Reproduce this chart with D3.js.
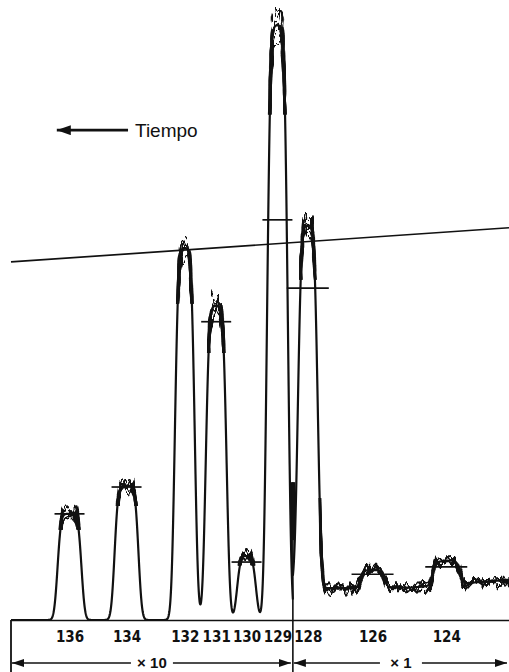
<!DOCTYPE html>
<html>
<head>
<meta charset="utf-8">
<script src="https://cdn.jsdelivr.net/npm/d3@7"></script>
<style>
  html, body { margin: 0; padding: 0; background: #fff; }
  svg { display: block; }
  .tick text { font-family: "Liberation Sans Narrow", "DejaVu Sans Condensed", sans-serif; font-weight: bold; font-size: 15px; fill: #111; }
</style>
</head>
<body>
<div id="chart"></div>
<script>
const masses        = [136, 134, 132, 131, 130, 129, 128, 126, 124];
const peakTime      = [11.75, 23.2, 34.9, 41.2, 47.3, 53.5, 59.6, 72.6, 87.4];
const peakHeight    = [17.4, 22.0, 61.0, 51.5, 10.5, 97.5, 59.5, 2.9, 3.9];   // sobre la linea base
const peakHalfWidth = [2.4, 2.4, 2.0, 2.1, 1.9, 2.1, 2.0, 2.4, 2.7];
const markLevel     = [17.4, 21.8, null, 48.9, 9.5, 65.6, 54.4, 7.5, 8.7];   // rayas horizontales

const gainSwitch = 56.6;                 // cambio de escala
const gainLabels = ['× 10', '× 1'];
const baseTimeX1  = [56.6, 80, 100];     // deriva de la linea base en la zona × 1
const baseLevelX1 = [5.2, 5.3, 6.6];
const spikeLevel  = [13.1, 22.6];        // transitorio al cambiar la escala
const refLine     = [58.7, 64.3];        // recta inclinada en t = 0 y t = 100

const W = 509, H = 672;
const EDGE = 0.55;   // suavizado de los flancos

const x = d3.scaleLinear().domain([0, 100]).range([11, 509]);
const y = d3.scaleLinear().domain([0, 100]).range([620, 10]);

function erf(v) {
    const s = Math.sign(v);
    v = Math.abs(v);
    const t = 1 / (1 + 0.3275911 * v);
    const r = 1 - (((((1.061405429 * t - 1.453152027) * t) + 1.421413741) * t - 0.284496736) * t + 0.254829592) * t * Math.exp(-v * v);
    return s * r;
}

function profile(t, i) {
    const s = EDGE * Math.SQRT2;
    return peakHeight[i] * 0.5 * (erf((t - peakTime[i] + peakHalfWidth[i]) / s) - erf((t - peakTime[i] - peakHalfWidth[i]) / s));
}

const idx = masses.map((m, i) => i);
const hiIdx = idx.filter(i => peakTime[i] < gainSwitch);
const loIdx = idx.filter(i => peakTime[i] > gainSwitch);
const baseline = d3.scaleLinear().domain(baseTimeX1).range(baseLevelX1);

const tHi = d3.range(0, gainSwitch, 0.05).concat([gainSwitch]);
const tLo = d3.range(gainSwitch, 100, 0.05).concat([100]);
const hiTrace = tHi.map(t => [t, d3.sum(hiIdx, i => profile(t, i))]);
const loTrace = tLo.map(t => [t, baseline(t) + d3.sum(loIdx, i => profile(t, i))]);

const line = d3.line().x(d => x(d[0])).y(d => y(d[1]));

const svg = d3.select('#chart').append('svg')
    .attr('width', W)
    .attr('height', H);

svg.append('rect').attr('width', W).attr('height', H).attr('fill', '#fff');

const defs = svg.append('defs');

// ruido vertical (solo desplaza en y)
function noiseFilter(id, amp, seed) {
    const f = defs.append('filter')
        .attr('id', id)
        .attr('filterUnits', 'userSpaceOnUse')
        .attr('x', 0).attr('y', -100).attr('width', W).attr('height', H + 100)
        .attr('color-interpolation-filters', 'sRGB');
    f.append('feTurbulence')
        .attr('type', 'fractalNoise')
        .attr('baseFrequency', '0.18 0.04')
        .attr('numOctaves', 2)
        .attr('seed', seed)
        .attr('result', 'n');
    f.append('feColorMatrix')
        .attr('in', 'n')
        .attr('type', 'matrix')
        .attr('values', '0 0 0 0 0.5  0 1 0 0 0  0 0 0 0 0  0 0 0 0 1')
        .attr('result', 'm');
    f.append('feDisplacementMap')
        .attr('in', 'SourceGraphic')
        .attr('in2', 'm')
        .attr('scale', amp)
        .attr('xChannelSelector', 'R')
        .attr('yChannelSelector', 'G');
}

function clipRect(id, t0, t1, v0, v1) {
    defs.append('clipPath').attr('id', id)
        .append('rect')
        .attr('x', x(t0)).attr('width', x(t1) - x(t0))
        .attr('y', y(v1)).attr('height', y(v0) - y(v1));
}

function noisyCopy(trace, filterId, clipId, width) {
    svg.append('path')
        .attr('d', line(trace))
        .attr('fill', 'none')
        .attr('stroke', '#111')
        .attr('stroke-width', width)
        .attr('filter', `url(#${filterId})`)
        .attr('clip-path', `url(#${clipId})`);
}

// linea de referencia inclinada
svg.append('line')
    .attr('x1', x(0)).attr('y1', y(refLine[0]))
    .attr('x2', x(100)).attr('y2', y(refLine[1]))
    .attr('stroke', '#111')
    .attr('stroke-width', 1.7);

// eje inferior con las masas
const axis = svg.append('g')
    .attr('transform', `translate(0,${y(0)})`)
    .call(d3.axisBottom(x)
        .tickValues(peakTime)
        .tickFormat((d, i) => masses[i])
        .tickSize(0)
        .tickSizeOuter(0)
        .tickPadding(11));
axis.select('.domain').attr('stroke', '#111').attr('stroke-width', 1.6);

// verticales del recuadro inferior
svg.append('line')
    .attr('x1', x(0)).attr('x2', x(0))
    .attr('y1', y(0)).attr('y2', H)
    .attr('stroke', '#111').attr('stroke-width', 1.8);

svg.append('line')
    .attr('x1', x(gainSwitch)).attr('x2', x(gainSwitch))
    .attr('y1', y(spikeLevel[1])).attr('y2', H)
    .attr('stroke', '#111').attr('stroke-width', 1.6);

svg.append('line')
    .attr('x1', x(gainSwitch)).attr('x2', x(gainSwitch))
    .attr('y1', y(spikeLevel[1])).attr('y2', y(spikeLevel[0]))
    .attr('stroke', '#111').attr('stroke-width', 5);

// traza limpia
[hiTrace, loTrace].forEach(tr => {
    svg.append('path')
        .attr('d', line(tr))
        .attr('fill', 'none')
        .attr('stroke', '#111')
        .attr('stroke-width', 2.2)
        .attr('stroke-linejoin', 'round');
});

// ruido en las cimas de los picos
idx.forEach(i => {
    const inHi = peakTime[i] < gainSwitch;
    const top = inHi ? peakHeight[i] : peakHeight[i] + baseline(peakTime[i]);
    if (!inHi && peakHeight[i] < 10) return;
    const hpx = y(0) - y(top);
    clipRect('cl' + i, peakTime[i] - peakHalfWidth[i] - 0.9, peakTime[i] + peakHalfWidth[i] + 0.9,
        top - peakHeight[i] * 0.15, top + peakHeight[i] * 0.2);
    [0, 1, 2, 3].forEach(k => {
        noiseFilter(`nz${i}_${k}`, 3.6 * Math.sqrt(hpx), 7 * i + k + 3);
        noisyCopy(inHi ? hiTrace : loTrace, `nz${i}_${k}`, 'cl' + i, 3);
    });
});

// ruido de la zona × 1
const first = loIdx[0];
clipRect('clLo', peakTime[first] + peakHalfWidth[first] + 0.2, 100, 0, 20);
[0, 1, 2].forEach(k => {
    noiseFilter('nzLo' + k, 26, 51 + k);
    noisyCopy(loTrace, 'nzLo' + k, 'clLo', 3);
});

// rayas horizontales
idx.filter(i => markLevel[i] !== null).forEach(i => {
    const half = peakTime[i] < gainSwitch ? 15 : 21;
    svg.append('line')
        .attr('x1', x(peakTime[i]) - half).attr('x2', x(peakTime[i]) + half)
        .attr('y1', y(markLevel[i])).attr('y2', y(markLevel[i]))
        .attr('stroke', '#111').attr('stroke-width', 1.7);
});

// flechas
defs.append('marker').attr('id', 'ah')
    .attr('markerUnits', 'userSpaceOnUse')
    .attr('viewBox', '0 0 12 8').attr('refX', 12).attr('refY', 4)
    .attr('markerWidth', 12).attr('markerHeight', 8)
    .attr('orient', 'auto-start-reverse')
    .append('path').attr('d', 'M0,0 L12,4 L0,8 Z').attr('fill', '#111');

defs.append('marker').attr('id', 'ahBig')
    .attr('markerUnits', 'userSpaceOnUse')
    .attr('viewBox', '0 0 14 10').attr('refX', 14).attr('refY', 5)
    .attr('markerWidth', 14).attr('markerHeight', 10)
    .attr('orient', 'auto-start-reverse')
    .append('path').attr('d', 'M0,0 L14,5 L0,10 Z').attr('fill', '#111');

// escalas × 10 / × 1
const zones = [[0, gainSwitch], [gainSwitch, 100]];
const arrowY = 663;
zones.forEach((z, k) => {
    const x0 = x(z[0]) + 1, x1 = x(z[1]) - 2;
    const mid = (x(z[0]) + x(z[1])) / 2;
    svg.append('line')
        .attr('x1', x0).attr('x2', mid - 21)
        .attr('y1', arrowY).attr('y2', arrowY)
        .attr('stroke', '#111').attr('stroke-width', 1.4)
        .attr('marker-start', 'url(#ah)');
    svg.append('line')
        .attr('x1', mid + 21).attr('x2', x1)
        .attr('y1', arrowY).attr('y2', arrowY)
        .attr('stroke', '#111').attr('stroke-width', 1.4)
        .attr('marker-end', 'url(#ah)');
    svg.append('text')
        .attr('x', mid).attr('y', 668)
        .attr('text-anchor', 'middle')
        .attr('font-family', 'Liberation Sans, Arial, sans-serif')
        .attr('font-weight', 'bold')
        .attr('font-size', 15)
        .attr('fill', '#111')
        .text(gainLabels[k]);
});

// Tiempo
svg.append('line')
    .attr('x1', x(23.5)).attr('x2', x(9.2))
    .attr('y1', y(80.3)).attr('y2', y(80.3))
    .attr('stroke', '#111').attr('stroke-width', 2.8)
    .attr('marker-end', 'url(#ahBig)');
svg.append('text')
    .attr('x', x(24.9)).attr('y', y(80.3) + 6.5)
    .attr('font-family', 'Liberation Sans, Arial, sans-serif')
    .attr('font-size', 19)
    .attr('fill', '#111')
    .text('Tiempo');
</script>
</body>
</html>
